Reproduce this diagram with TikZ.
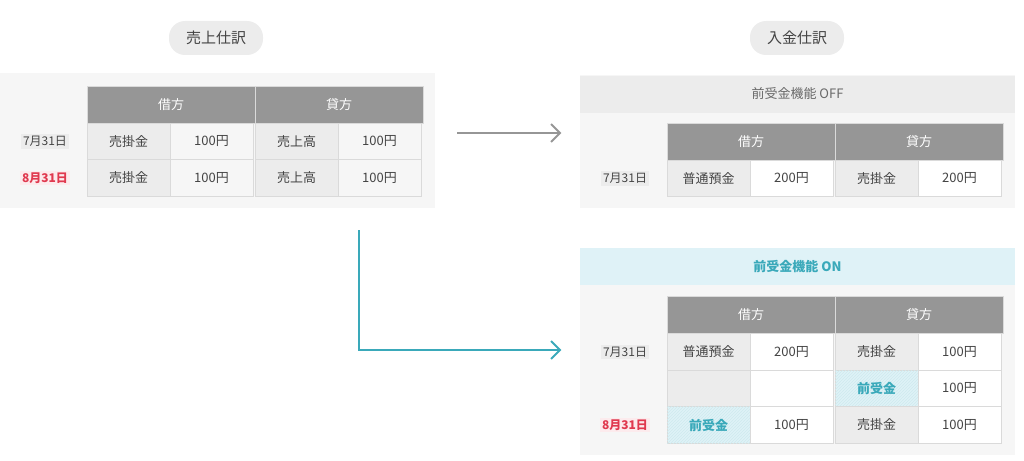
\documentclass[tikz,border=0pt]{standalone}
\usepackage{fontspec}
\setmainfont{Noto Sans CJK JP}
\usepackage{xcolor}
\usetikzlibrary{patterns}
\definecolor{headgray}{HTML}{969696}
\definecolor{cellgray}{HTML}{ECECEC}
\definecolor{panelgray}{HTML}{F6F6F6}
\definecolor{linegray}{HTML}{DADADA}
\definecolor{textgray}{HTML}{444444}
\definecolor{datered}{HTML}{E0394F}
\definecolor{tealc}{HTML}{3AA9BA}
\definecolor{lightteal}{HTML}{DFF2F7}

\tikzset{
  cell/.style={draw=linegray, line width=0.8pt, minimum width=83pt, minimum height=36.5pt,
    inner sep=0pt, text=textgray, font=\fontsize{13}{15}\selectfont},
  acct/.style={cell, fill=cellgray},
  amount/.style={cell, fill=white},
  head/.style={cell, fill=headgray, text=white, minimum width=168pt},
  hatch/.style={cell, fill=lightteal, postaction={pattern=north east lines, pattern color=tealc!25},
    text=tealc, font=\fontsize{13}{15}\selectfont\bfseries},
  datebox/.style={fill=cellgray, text=textgray, inner sep=2pt, font=\fontsize{12}{14}\selectfont},
  datered/.style={datebox, fill=datered!10, text=datered, font=\fontsize{12}{14}\selectfont\bfseries},
  pill/.style={fill=cellgray, rounded corners=16pt, minimum width=94pt, minimum height=34pt,
    text=textgray, font=\fontsize{15}{17}\selectfont},
  band/.style={minimum width=435pt, minimum height=37pt, inner sep=0pt, font=\fontsize{13}{15}\selectfont},
}

\begin{document}
\begin{tikzpicture}[x=1pt, y=-1pt]
  \useasboundingbox (0,0) rectangle (1024,460);

  % titles
  \node[pill] (sales) at (216,38) {売上仕訳};
  \node[pill] (receipt) at (797,38) {入金仕訳};

  % left panel
  \fill[panelgray] (0,73) rectangle (435,208);
  \node[head] (lhd) at (171,105) {借方};
  \node[head] (lhc) at (339,105) {貸方};
  \node[acct] (la1) at (128.5,141.5) {売掛金};
  \node[amount, fill=panelgray] (lb1) at (211.5,141.5) {100円};
  \node[acct] (lc1) at (296.5,141.5) {売上高};
  \node[amount, fill=panelgray] (ld1) at (379.5,141.5) {100円};
  \node[acct] (la2) at (128.5,178) {売掛金};
  \node[amount, fill=panelgray] (lb2) at (211.5,178) {100円};
  \node[acct] (lc2) at (296.5,178) {売上高};
  \node[amount, fill=panelgray] (ld2) at (379.5,178) {100円};
  \node[datebox] (ldate1) at (45,141.5) {7月31日};
  \node[datered] (ldate2) at (45,178) {8月31日};

  % right top panel
  \fill[panelgray] (580,75) rectangle (1015,208);
  \node[band, fill=cellgray, text=textgray!80] (off) at (797.5,94) {前受金機能 OFF};
  \node[head] (rhd) at (751,142) {借方};
  \node[head] (rhc) at (919,142) {貸方};
  \node[acct] (ra1) at (708.5,178.5) {普通預金};
  \node[amount] (rb1) at (791.5,178.5) {200円};
  \node[acct] (rc1) at (876.5,178.5) {売掛金};
  \node[amount] (rd1) at (959.5,178.5) {200円};
  \node[datebox] (rdate1) at (625,178.5) {7月31日};

  % right bottom panel
  \fill[panelgray] (580,248) rectangle (1015,455);
  \node[band, fill=lightteal, text=tealc, font=\fontsize{13}{15}\selectfont\bfseries] (on) at (797.5,266.5) {前受金機能 ON};
  \node[head] (shd) at (751,315) {借方};
  \node[head] (shc) at (919,315) {貸方};
  \node[acct] (sa1) at (708.5,352) {普通預金};
  \node[amount] (sb1) at (791.5,352) {200円};
  \node[acct] (sc1) at (876.5,352) {売掛金};
  \node[amount] (sd1) at (959.5,352) {100円};
  \node[acct] (sa2) at (708.5,388.5) {};
  \node[amount] (sb2) at (791.5,388.5) {};
  \node[hatch] (sc2) at (876.5,388.5) {前受金};
  \node[amount] (sd2) at (959.5,388.5) {100円};
  \node[hatch] (sa3) at (708.5,425) {前受金};
  \node[amount] (sb3) at (791.5,425) {100円};
  \node[acct] (sc3) at (876.5,425) {売掛金};
  \node[amount] (sd3) at (959.5,425) {100円};
  \node[datebox] (sdate1) at (625,352) {7月31日};
  \node[datered] (sdate2) at (625,425) {8月31日};

  % arrows
  \coordinate (gstart) at (457,133);
  \coordinate (gend) at (560,133);
  \draw[headgray, line width=2pt] (gstart) -- (gend);
  \draw[headgray, line width=2pt] ([shift={(-9,-9)}]gend) -- (gend) -- ([shift={(-9,9)}]gend);
  \coordinate (tstart) at (359,230);
  \coordinate (tend) at (560,350);
  \draw[tealc, line width=2pt] (tstart) |- (tend);
  \draw[tealc, line width=2pt] ([shift={(-9,-9)}]tend) -- (tend) -- ([shift={(-9,9)}]tend);
\end{tikzpicture}
\end{document}
